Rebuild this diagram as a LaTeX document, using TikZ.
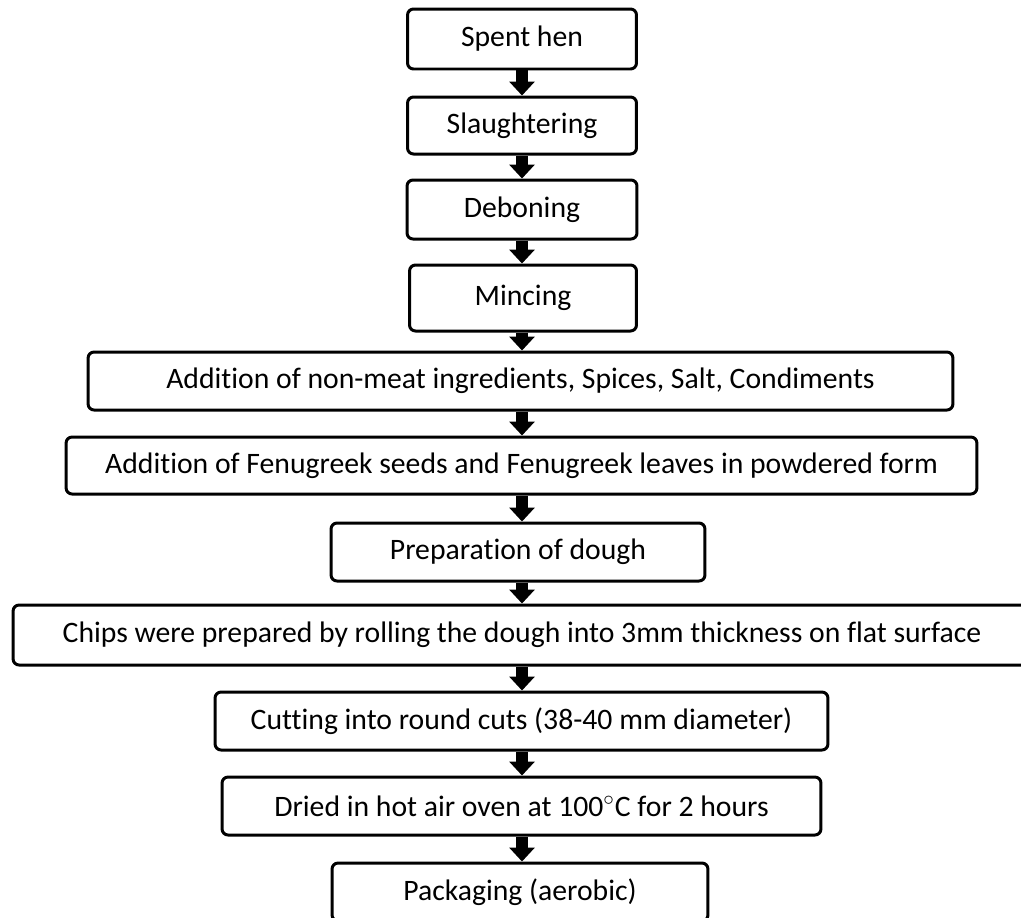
\documentclass[tikz,border=0pt]{standalone}
\usepackage{fontspec}
\setmainfont{Carlito}[Ligatures=NoCommon]
\usetikzlibrary{arrows.meta}

\begin{document}
\begin{tikzpicture}[x=0.02cm, y=-0.02cm,
  box/.style={draw=black, line width=0.06cm, rounded corners=0.12cm, fill=white,
    inner sep=0pt, align=center, font=\fontsize{16.9}{20}\selectfont},
  flow/.style={line width=0.24cm, -{Triangle[width=0.5cm, length=0.28cm]}}]
  \useasboundingbox (0,0) rectangle (1021,917);
  \clip (0,0) rectangle (1021,917);

  % Etapas
  \node[box, minimum width=4.58cm, minimum height=1.2cm]  (hen)       at (522,39)    {Spent hen};
  \node[box, minimum width=4.58cm, minimum height=1.14cm] (slaughter) at (522,125.5) {Slaughtering};
  \node[box, minimum width=4.6cm,  minimum height=1.18cm] (debone)    at (522,209.5) {Deboning};
  \node[box, minimum width=4.54cm, minimum height=1.32cm] (mince)     at (523,298)   {Mincing};
  \node[box, minimum width=17.3cm, minimum height=1.16cm] (nonmeat)   at (520.5,381) {Addition of non-meat ingredients, Spices, Salt, Condiments};
  \node[box, minimum width=18.22cm,minimum height=1.14cm] (fenugreek) at (521.5,465.5) {Addition of Fenugreek seeds and Fenugreek leaves in powdered form};
  \node[box, minimum width=7.48cm, minimum height=1.16cm] (dough)     at (518,552)   {Preparation of dough};
  \node[box, minimum width=20.36cm,minimum height=1.2cm]  (chips)     at (522,635)   {Chips were prepared by rolling the dough into 3mm thickness on flat surface};
  \node[box, minimum width=12.26cm,minimum height=1.16cm] (cut)       at (521.5,721) {Cutting into round cuts (38-40 mm diameter)};
  \node[box, minimum width=11.98cm,minimum height=1.16cm] (dry)       at (521.5,806) {Dried in hot air oven at 100$^{\circ}$C for 2 hours};
  \node[box, minimum width=7.52cm, minimum height=1.16cm] (pack)      at (520,892)   {Packaging (aerobic)};

  % Setas
  \foreach \a/\b in {hen/slaughter, slaughter/debone, debone/mince, mince/nonmeat,
                     nonmeat/fenugreek, fenugreek/dough, dough/chips, chips/cut,
                     cut/dry, dry/pack}
    \draw[flow] (522,0 |- \a.south) -- (522,0 |- \b.north);
\end{tikzpicture}
\end{document}
